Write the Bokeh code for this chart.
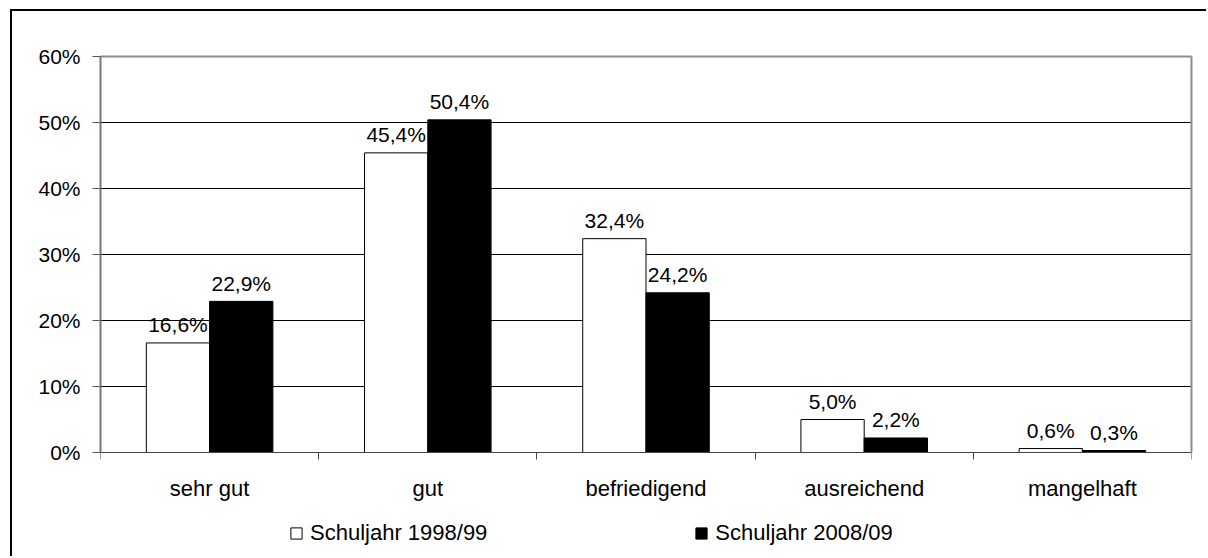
import numpy as np
from bokeh.plotting import figure
from bokeh.models import (ColumnDataSource, Range1d, FixedTicker, Legend, LegendItem,
                          LinearAxis)
from bokeh.transform import dodge
from bokeh.core.properties import value
from bokeh.embed import file_html
from bokeh.resources import INLINE

categories = ["sehr gut", "gut", "befriedigend", "ausreichend", "mangelhaft"]
series_names = ["Schuljahr 1998/99", "Schuljahr 2008/09"]
values_1998 = [16.6, 45.4, 32.4, 5.0, 0.6]
values_2008 = [22.9, 50.4, 24.2, 2.2, 0.3]
y_ticks = [0, 10, 20, 30, 40, 50, 60]
y_tick_labels = ["0%", "10%", "20%", "30%", "40%", "50%", "60%"]

FONT = "Liberation Sans"
AXIS_GREY = "#8c8c8c"


def fmt(v):
    return f"{v:.1f}".replace(".", ",") + "%"


centers = [i + 0.5 for i in range(len(categories))]
src = ColumnDataSource(dict(
    x=centers,
    v1=values_1998,
    v2=values_2008,
    l1=[fmt(v) for v in values_1998],
    l2=[fmt(v) for v in values_2008],
))

# frame reaches down to the legend row; the category axis sits at y = 0
p = figure(width=1196, height=547,
           x_range=Range1d(0, len(categories)), y_range=Range1d(-15, y_ticks[-1]),
           output_backend="svg", toolbar_location=None,
           min_border_left=88, min_border_top=45, min_border_right=17, min_border_bottom=7)
p.margin = (9, 0, 0, 10)
p.styles = {"border-top": "2px solid black", "border-left": "2px solid black"}
p.background_fill_color = "white"
p.border_fill_color = "white"
p.outline_line_color = None

xa = p.below[0]
ya = p.left[0]

bw = 0.29
r1 = p.vbar(x=dodge("x", -bw / 2, range=p.x_range), top="v1", width=bw, source=src,
            fill_color="white", line_color="black", line_width=1)
r2 = p.vbar(x=dodge("x", bw / 2, range=p.x_range), top="v2", width=bw, source=src,
            fill_color="black", line_color="black", line_width=1)

for col, lab, off in (("v1", "l1", -bw / 2), ("v2", "l2", bw / 2)):
    p.text(x=dodge("x", off, range=p.x_range), y=col, text=lab, source=src,
           text_align="center", text_baseline="alphabetic", y_offset=-18,
           text_font=value(FONT), text_font_size="21px", text_color="black")

# y axis (left)
ya.ticker = FixedTicker(ticks=y_ticks)
ya.bounds = (y_ticks[0], y_ticks[-1])
ya.major_label_overrides = {t: l for t, l in zip(y_ticks, y_tick_labels)}
ya.major_label_text_font = FONT
ya.major_label_text_font_size = "21px"
ya.major_label_text_color = "black"
ya.major_tick_out = 8
ya.major_tick_in = 0
ya.minor_tick_line_color = None
ya.major_label_standoff = 12
ya.axis_line_color = "#777777"
ya.axis_line_width = 2
ya.major_tick_line_color = "#555555"

# x axis: labels at category centres, ticks at category boundaries, placed at 0 %
xa.fixed_location = 0
xa.ticker = FixedTicker(ticks=centers, minor_ticks=list(range(len(categories) + 1)))
xa.major_label_overrides = {c: n for c, n in zip(centers, categories)}
xa.major_label_text_font = FONT
xa.major_label_text_font_size = "22px"
xa.major_label_text_color = "black"
xa.major_tick_out = 0
xa.major_tick_in = 0
xa.minor_tick_out = 7
xa.minor_tick_in = 0
xa.minor_tick_line_color = "#444444"
xa.major_label_standoff = 16
xa.axis_line_color = "#444444"
xa.axis_line_width = 1

# plot-area border on the right and top (grey)
right_line = LinearAxis(ticker=FixedTicker(ticks=[]), bounds=(y_ticks[0], y_ticks[-1]),
                        axis_line_color=AXIS_GREY, axis_line_width=2,
                        major_tick_line_color=None, minor_tick_line_color=None)
p.add_layout(right_line, "right")
top_line = LinearAxis(ticker=FixedTicker(ticks=[]),
                      axis_line_color=AXIS_GREY, axis_line_width=2,
                      major_tick_line_color=None, minor_tick_line_color=None)
p.add_layout(top_line, "above")

p.xgrid.visible = False
p.ygrid.ticker = FixedTicker(ticks=y_ticks)
p.ygrid.grid_line_color = "black"
p.ygrid.grid_line_width = 1

legend = Legend(items=[LegendItem(label=series_names[0], renderers=[r1]),
                       LegendItem(label=series_names[1], renderers=[r2])],
                orientation="horizontal", location=(189, 5),
                glyph_width=14, glyph_height=14, label_standoff=7, spacing=207,
                padding=0, margin=0, border_line_color=None, background_fill_alpha=0,
                label_text_font=FONT, label_text_font_size="22px", label_text_color="black")
p.add_layout(legend)

open("out.html", "w").write(file_html(p, INLINE))
